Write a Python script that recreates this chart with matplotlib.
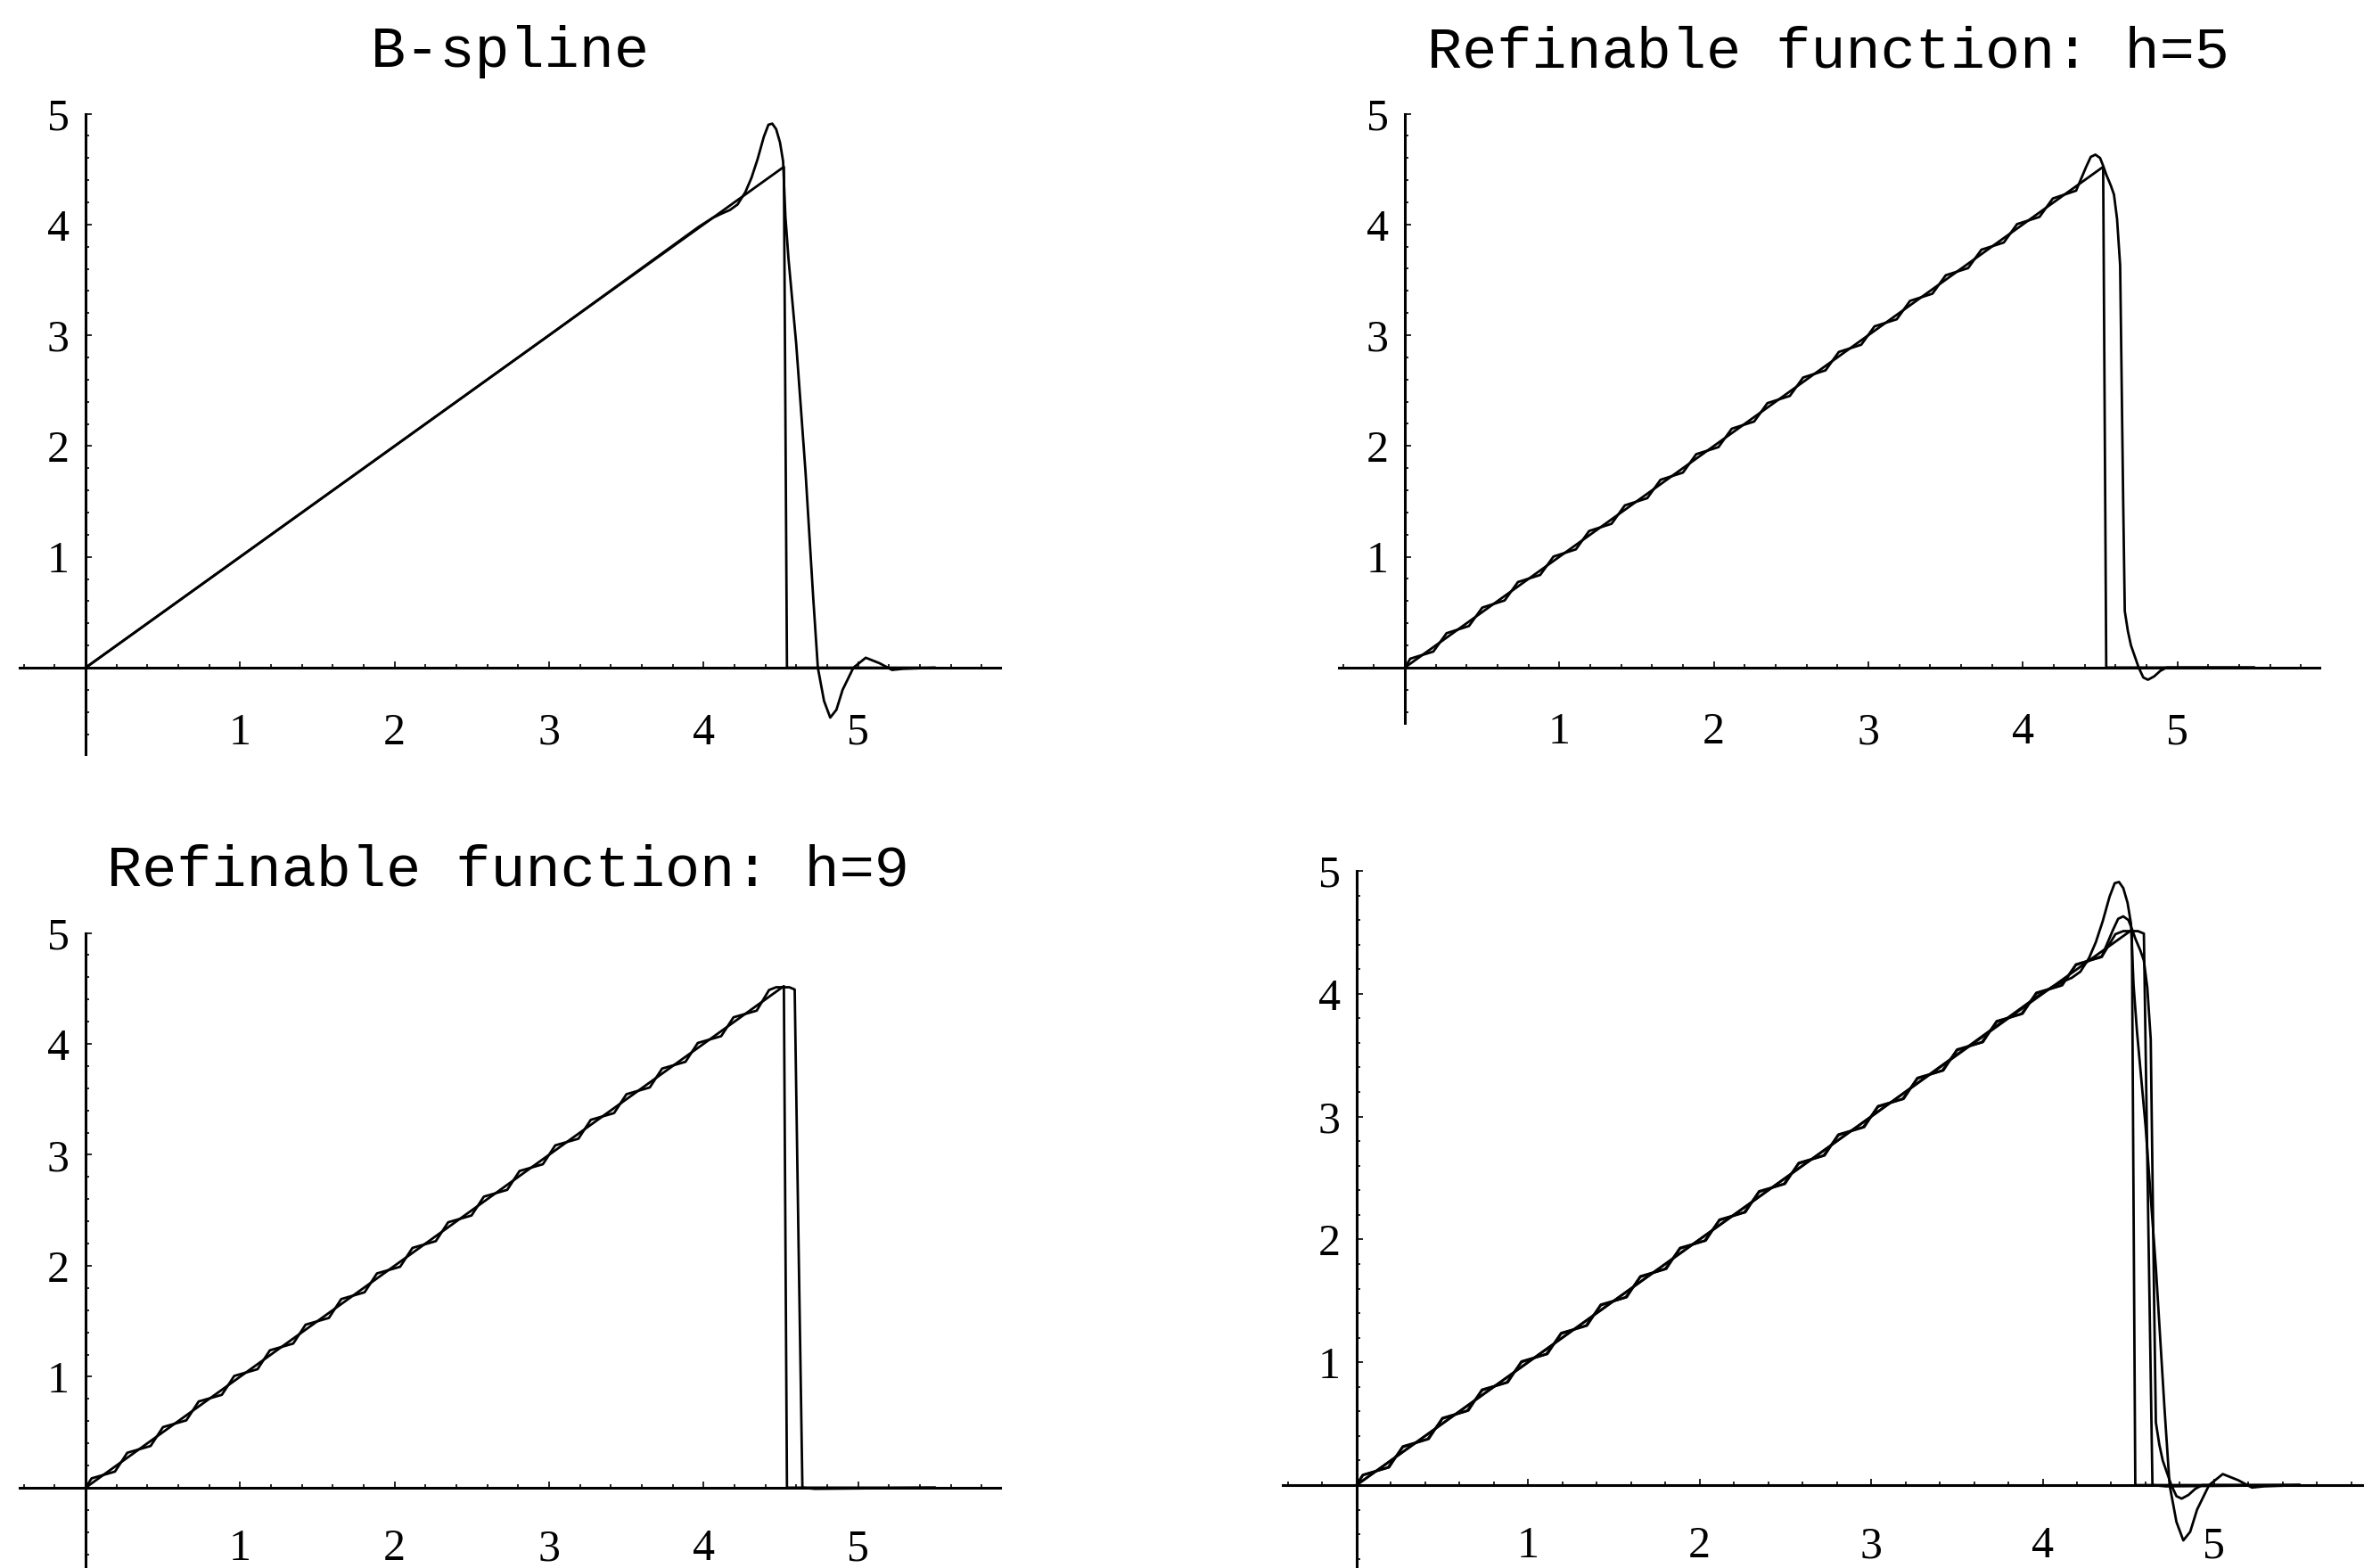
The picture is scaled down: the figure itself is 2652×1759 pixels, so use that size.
import matplotlib
matplotlib.use("Agg")
import matplotlib.pyplot as plt
from matplotlib.ticker import FixedLocator, MultipleLocator, NullFormatter

plt.rcParams['font.family'] = ['Liberation Serif', 'DejaVu Serif']

# Target: the ramp y = x, cut off by a jump back to zero
target_x = [0.0, 4.52, 4.54, 5.50]
target_y = [0.0, 4.52, 0.0, 0.0]

# Cubic B-spline approximation (Gibbs-type overshoot at the jump)
bspline_x = [0.0, 1.0, 2.0, 3.0, 3.97, 4.06, 4.12, 4.17, 4.22, 4.27, 4.31, 4.35,
             4.39, 4.42, 4.445, 4.47, 4.495, 4.515, 4.53, 4.55, 4.60, 4.66, 4.71,
             4.74, 4.78, 4.82, 4.86, 4.90, 4.97, 5.05, 5.14, 5.22, 5.29, 5.50]
bspline_y = [0.0, 1.0, 2.0, 3.0, 3.98, 4.06, 4.10, 4.13, 4.18, 4.29, 4.42, 4.59,
             4.79, 4.90, 4.91, 4.86, 4.74, 4.57, 4.07, 3.69, 2.92, 1.77, 0.63,
             0.0, -0.30, -0.45, -0.38, -0.20, 0.0, 0.09, 0.04, -0.02, -0.01, 0.0]

# Refinable function approximation, h = 5
h5_x = [0.0, 0.035, 0.184, 0.270, 0.415, 0.501, 0.646, 0.732, 0.876, 0.962,
        1.107, 1.193, 1.338, 1.424, 1.569, 1.655, 1.800, 1.886, 2.030, 2.116,
        2.261, 2.347, 2.492, 2.578, 2.723, 2.809, 2.954, 3.040, 3.184, 3.270,
        3.415, 3.501, 3.646, 3.732, 3.877, 3.963, 4.108, 4.194, 4.345, 4.41,
        4.44, 4.47, 4.50, 4.52, 4.54, 4.57, 4.59, 4.61, 4.63, 4.64, 4.65, 4.66,
        4.68, 4.70, 4.75, 4.78, 4.81, 4.85, 4.89, 4.93, 5.50]
h5_y = [0.0, 0.08, 0.144, 0.310, 0.375, 0.541, 0.606, 0.772, 0.836, 1.002,
        1.067, 1.233, 1.298, 1.464, 1.529, 1.695, 1.760, 1.926, 1.990, 2.156,
        2.221, 2.387, 2.452, 2.618, 2.683, 2.849, 2.914, 3.080, 3.144, 3.310,
        3.375, 3.541, 3.606, 3.772, 3.837, 4.003, 4.068, 4.234, 4.305, 4.52,
        4.61, 4.63, 4.60, 4.53, 4.45, 4.35, 4.27, 4.05, 3.63, 2.55, 1.47, 0.51,
        0.33, 0.20, 0.0, -0.09, -0.11, -0.08, -0.03, 0.0, 0.0]

# Refinable function approximation, h = 9
h9_x = [0.0, 0.039, 0.190, 0.270, 0.421, 0.501, 0.652, 0.732, 0.882, 0.962,
        1.113, 1.193, 1.344, 1.424, 1.575, 1.655, 1.806, 1.886, 2.036, 2.116,
        2.267, 2.347, 2.498, 2.578, 2.729, 2.809, 2.960, 3.040, 3.190, 3.270,
        3.421, 3.501, 3.652, 3.732, 3.883, 3.963, 4.114, 4.194, 4.344, 4.424,
        4.47, 4.555, 4.59, 4.615, 4.64, 4.72, 5.50]
h9_y = [0.0, 0.084, 0.145, 0.315, 0.376, 0.546, 0.607, 0.777, 0.837, 1.007,
        1.068, 1.238, 1.299, 1.469, 1.530, 1.700, 1.761, 1.931, 1.991, 2.161,
        2.222, 2.392, 2.453, 2.623, 2.684, 2.854, 2.915, 3.085, 3.145, 3.315,
        3.376, 3.546, 3.607, 3.777, 3.838, 4.008, 4.069, 4.239, 4.299, 4.485,
        4.51, 4.51, 4.49, 2.20, 0.0, -0.01, 0.0]

titles = ["B-spline", "Refinable function: h=5", "Refinable function: h=9", ""]
major_ticks = [1, 2, 3, 4, 5]
x_range = (-0.43, 5.92)
y_tops = [5.0, 5.0, 5.0, 5.0]
y_bottoms = [-0.78, -0.50, -0.78, -0.78]

W, H = 2652, 1759
fig = plt.figure(figsize=(W / 100, H / 100), dpi=100)
fig.patch.set_facecolor("white")


def frame(x0, x1, ytop, ybot):
    return [x0 / W, 1 - ybot / H, (x1 - x0) / W, (ybot - ytop) / H]


# axes rectangles in pixel units (left, right, top, bottom)
boxes = [
    frame(21.5, 1122.0, 127.5, 846.0),
    frame(1501.5, 2602.0, 127.5, 811.0),
    frame(21.5, 1122.0, 1046.5, 1766.0),
    frame(1439.0, 2661.0, 977.0, 1773.5),
]
x_pads = [36, 36, 33, 33]

curves = [
    [(target_x, target_y), (bspline_x, bspline_y)],
    [(target_x, target_y), (h5_x, h5_y)],
    [(target_x, target_y), (h9_x, h9_y)],
    [(target_x, target_y), (bspline_x, bspline_y), (h5_x, h5_y), (h9_x, h9_y)],
]

for box, series, ytop, ybot, xpad in zip(boxes, curves, y_tops, y_bottoms, x_pads):
    ax = fig.add_axes(box)
    ax.set_facecolor("none")
    for xs, ys in series:
        ax.plot(xs, ys, color="black", lw=2.0, solid_joinstyle="round",
                solid_capstyle="round")
    ax.set_xlim(*x_range)
    ax.set_ylim(ybot, ytop)
    for side in ("top", "right"):
        ax.spines[side].set_visible(False)
    for side in ("left", "bottom"):
        ax.spines[side].set_position(("data", 0))
        ax.spines[side].set_linewidth(2.2)
        ax.spines[side].set_color("black")
    for axis in (ax.xaxis, ax.yaxis):
        axis.set_major_locator(FixedLocator(major_ticks))
        axis.set_minor_locator(MultipleLocator(0.2))
        axis.set_minor_formatter(NullFormatter())
    ax.tick_params(which="both", direction="in", color="black", width=1.2,
                   labelsize=36)
    ax.tick_params(which="major", length=5)
    ax.tick_params(which="minor", length=3)
    ax.tick_params(axis="x", which="major", pad=xpad)
    ax.tick_params(axis="y", which="major", pad=13)

# panel titles in a typewriter face
title_pos = [(572, 75), (2051, 75), (570, 994)]
for text, (tx, ty) in zip(titles[:3], title_pos):
    fig.text(tx / W, 1 - ty / H, text, ha="center", va="baseline",
             family=["Liberation Mono", "DejaVu Sans Mono"], fontsize=47)

fig.savefig("out.png", dpi=100, facecolor="white")
